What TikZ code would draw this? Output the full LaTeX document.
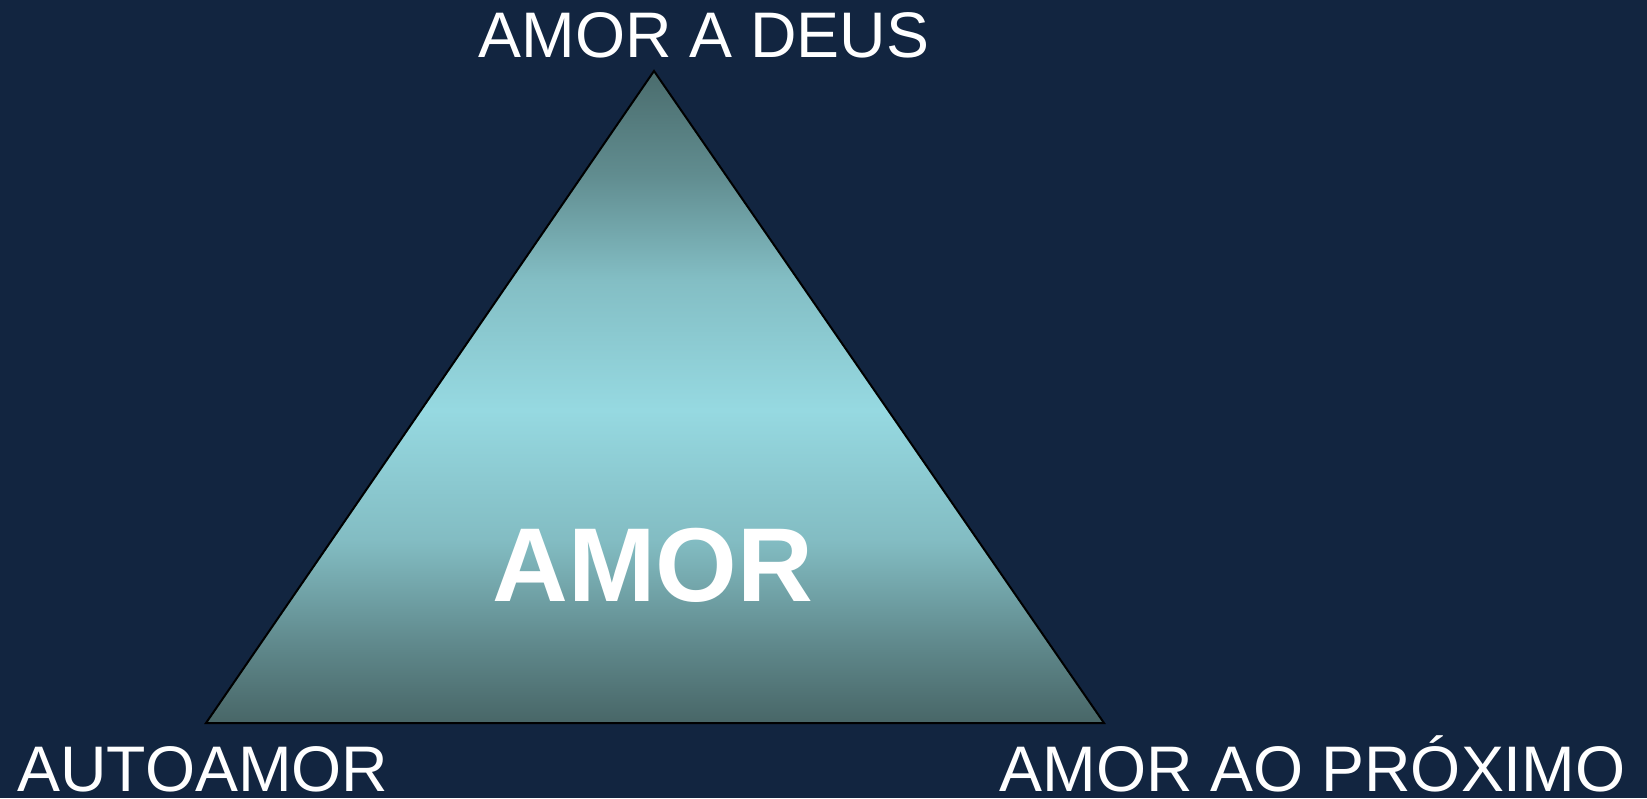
\documentclass[tikz,border=0pt]{standalone}
\usepackage{fontspec}
\setmainfont{Liberation Sans}
\usetikzlibrary{positioning}

\definecolor{fundo}{RGB}{18,37,64}
\definecolor{tribase}{RGB}{72,102,103}
\definecolor{trimeio}{RGB}{150,217,225}
\definecolor{tritopo}{RGB}{74,108,109}

% the path fills the middle half (25bp to 75bp) of the shading
\pgfdeclareverticalshading{amorgrad}{100bp}{%
  color(0bp)=(tribase); color(25bp)=(tribase);
  color(31bp)=(tribase!70!trimeio); color(39bp)=(tribase!25!trimeio);
  color(49bp)=(trimeio);
  color(59bp)=(tritopo!25!trimeio); color(67bp)=(tritopo!70!trimeio);
  color(75bp)=(tritopo); color(100bp)=(tritopo)}

\tikzset{
  rotulo/.style={text=white, inner sep=0pt, font=\fontsize{32.2}{38}\selectfont},
  centro/.style={text=white, inner sep=0pt, font=\fontsize{52.5}{60}\bfseries\selectfont}
}

\begin{document}
\begin{tikzpicture}[x=0.5pt,y=-0.5pt]

\fill [fundo] (0,0) rectangle (1647,798);
\useasboundingbox (0,0) rectangle (1647,798);

% vertices
\coordinate (deus) at (654,71);
\coordinate (auto) at (206,723);
\coordinate (prox) at (1104,723);

\shade [shading=amorgrad, draw=black, line width=1pt, line join=miter]
  (deus) -- (prox) -- (auto) -- cycle;

% Text Node
\node (amor) [centro, anchor=base] at (653,601) {AMOR};
\node (rdeus) [rotulo, anchor=base] at (704,57) {AMOR A DEUS};
\node (rauto) [rotulo, anchor=base west] at (17,791) {AUTOAMOR};
\node (rprox) [rotulo, anchor=base east] at (1626,791) {AMOR AO PRÓXIMO};

\end{tikzpicture}
\end{document}
